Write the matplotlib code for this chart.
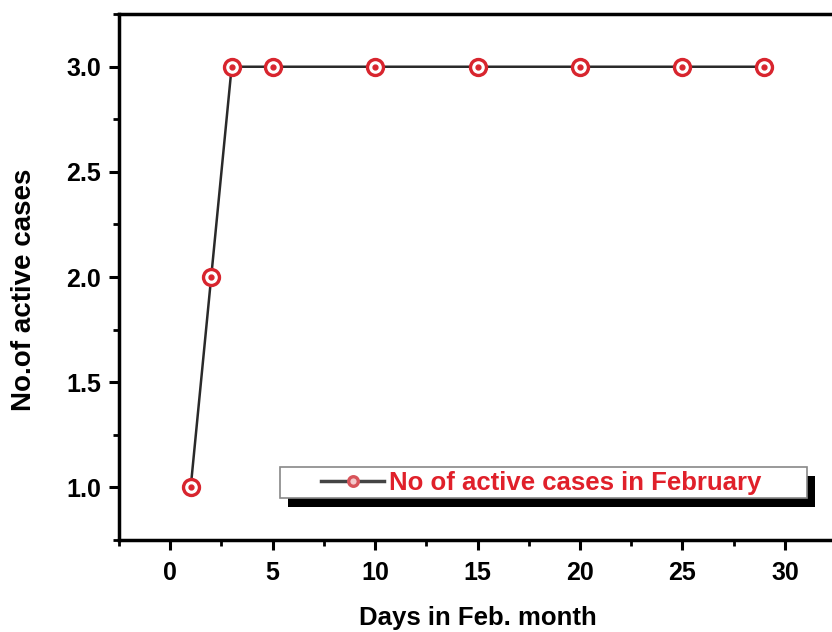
import matplotlib
matplotlib.use('Agg')
import matplotlib.pyplot as plt
from matplotlib.patches import Rectangle
from matplotlib.ticker import MultipleLocator

plt.rcParams['font.family'] = ['Liberation Sans', 'DejaVu Sans']
plt.rcParams['font.weight'] = 'bold'

days = [1, 2, 3, 5, 10, 15, 20, 25, 29]
cases = [1, 2, 3, 3, 3, 3, 3, 3, 3]
series_label = 'No of active cases in February'

fig = plt.figure(figsize=(8.32, 6.32), dpi=100)
ax = fig.add_axes([0.143, 0.1456, 0.862, 0.832])

ax.plot(days, cases, color='#2a2a2a', lw=1.8, marker='o', markersize=11.5,
        mfc='white', mec='#d8252e', mew=2.4, label=series_label, zorder=3)
ax.plot(days, cases, ls='none', marker='o', markersize=3.5, color='#d8252e', zorder=4)

ax.set_xlim(-2.5, 32.5)
ax.set_ylim(0.75, 3.25)
ax.xaxis.set_major_locator(MultipleLocator(5))
ax.xaxis.set_minor_locator(MultipleLocator(2.5))
ax.yaxis.set_major_locator(MultipleLocator(0.5))
ax.yaxis.set_minor_locator(MultipleLocator(0.25))
ax.yaxis.set_major_formatter(matplotlib.ticker.FormatStrFormatter('%.1f'))

for s in ax.spines.values():
    s.set_linewidth(2.5)
ax.tick_params(which='major', direction='out', length=7, width=2.2, labelsize=18, pad=8)
ax.tick_params(axis='y', which='major', pad=6)
ax.tick_params(which='minor', direction='out', length=4, width=2)

ax.set_xlabel('Days in Feb. month', fontsize=18.5, fontweight='bold', labelpad=15)
ax.set_ylabel('No.of active cases', fontsize=20, fontweight='bold')
ax.yaxis.set_label_coords(-0.114, 0.475)

# legend without frame; frame and black shadow drawn around it afterwards
leg = ax.legend(loc='center left', bbox_to_anchor=(0.282, 0.109), frameon=False,
                fontsize=18.5, handlelength=2.45, handletextpad=0.2, borderpad=0,
                borderaxespad=0, markerscale=0.6)
for t in leg.get_texts():
    t.set_color('#e0202a')
    t.set_fontweight('bold')
leg.legend_handles[0].set_color('#444444')
leg.legend_handles[0].set_linewidth(2.5)
leg.legend_handles[0].set_markeredgecolor('#d8535a')
leg.legend_handles[0].set_markerfacecolor('#f3c9cb')
leg.set_zorder(7)

fig.canvas.draw()
bb = leg.get_window_extent()
cy = (bb.y0 + bb.y1) / 2
x0, x1 = bb.x0 - 41, bb.x1 + 45
h = 31
off_x, off_y = 8, 9
shadow = Rectangle((x0 + off_x, cy - h / 2 - off_y), x1 - x0, h,
                   transform=None, facecolor='black', edgecolor='none', zorder=5)
frame = Rectangle((x0, cy - h / 2), x1 - x0, h, transform=None,
                  facecolor='white', edgecolor='#888888', lw=1.2, zorder=6)
ax.add_artist(shadow)
ax.add_artist(frame)

fig.savefig('out.png', dpi=100)
